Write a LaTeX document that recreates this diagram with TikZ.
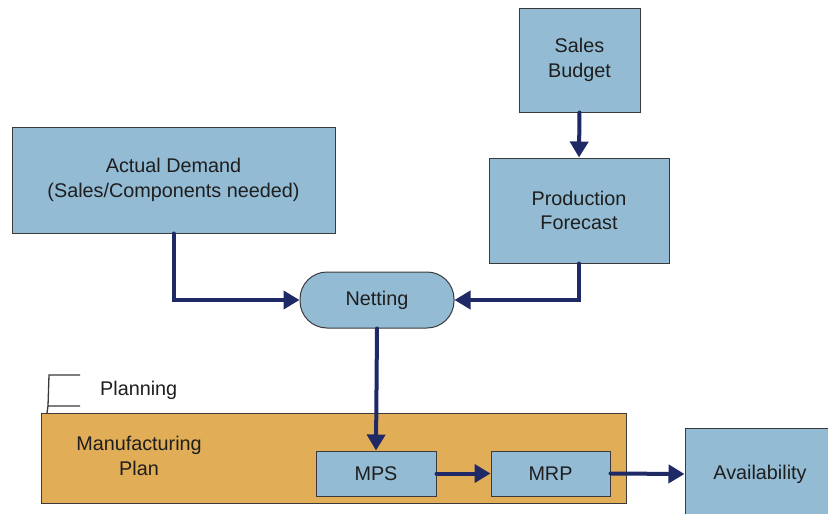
\documentclass[tikz,border=0pt]{standalone}
\usepackage{fontspec}
\setmainfont{Liberation Sans}
\usetikzlibrary{arrows.meta}
\definecolor{boxblue}{HTML}{93BBD4}
\definecolor{planorange}{HTML}{E1AD56}
\definecolor{navy}{HTML}{1E2966}
\definecolor{edge}{HTML}{3A3A3A}
\definecolor{ink}{HTML}{1E1E1E}
\tikzset{
  bluebox/.style={draw=edge, line width=1pt, fill=boxblue, align=center, inner sep=0pt,
    text=ink, font=\fontsize{19.8}{24.5}\selectfont},
  flow/.style={draw=navy, line width=4pt, line cap=round, -{Triangle[length=16pt,width=18pt]}},
  lbl/.style={font=\fontsize{19.8}{24.5}\selectfont, text=ink, align=center, inner sep=0pt}
}
\begin{document}
\begin{tikzpicture}[x=1pt,y=-1pt]
\useasboundingbox (0,0) rectangle (828,514);
\fill[white] (0,0) rectangle (828,514);
% nodes
\node[bluebox, minimum width=121pt, minimum height=104pt] (sb) at (579.5,60) {Sales\\Budget};
\node[bluebox, minimum width=180pt, minimum height=105pt] (pf) at (579,210.5) {Production\\Forecast};
\node[bluebox, minimum width=323pt, minimum height=106pt] (ad) at (173.5,180) {Actual Demand\\(Sales/Components needed)};
\node[bluebox, minimum width=154pt, minimum height=56pt, rounded corners=27pt] (net) at (377,300) {Netting};
\node[draw=edge, line width=1pt, fill=planorange, minimum width=585pt, minimum height=90pt, inner sep=0pt] (mp) at (333.5,458) {};
\node[lbl] (mptext) at (139,456) {Manufacturing\\Plan};
\node[bluebox, minimum width=120pt, minimum height=45pt] (mps) at (376,473.5) {MPS};
\node[bluebox, minimum width=119pt, minimum height=45pt] (mrp) at (550.5,473.5) {MRP};
\node[bluebox, minimum width=150pt, minimum height=92pt] (av) at (760,474) {Availability};
% planning annotation
\node[lbl, anchor=west] (plan) at (100,390) {Planning};
\coordinate (pa) at (80,375);
\coordinate (pb) at (49,375);
\coordinate (pc) at (48,406);
\coordinate (pd) at (80,406);
\coordinate (pe) at (47,413);
\draw[edge, line width=1.3pt] (pa) -- (pb) -- (pc) -- (pd);
\draw[edge, line width=1.3pt] (pc) -- (pe);
% connectors
\draw[flow] (sb.south) -- (pf.north);
\draw[flow] (ad.south) |- (net.west);
\draw[flow] (pf.south) |- (net.east);
\draw[flow] (net.south) -- (mps.north);
\draw[flow] (mps.east) -- (mrp.west);
\draw[flow] (mrp.east) -- (av.west);
\end{tikzpicture}
\end{document}
